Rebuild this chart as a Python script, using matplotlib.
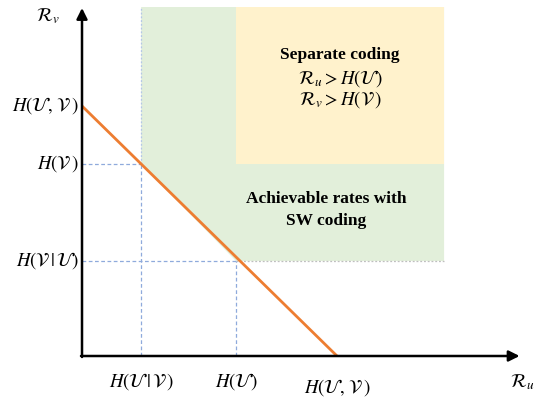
import matplotlib.pyplot as plt

plt.rcParams['mathtext.fontset'] = 'stix'

# entropies (arbitrary units)
H_U_given_V = 0.58
H_V_given_U = 0.95
H_U = 1.51
H_V = 1.92
H_UV = 2.50

# extent of the shaded regions
R_u_max = 3.55
R_v_max = 3.49

tick_x = [H_U_given_V, H_U, H_UV]
tick_x_labels = [r'$H(\mathcal{U}\,|\,\mathcal{V}\,)$', r'$H(\mathcal{U})$', r'$H(\mathcal{U},\,\mathcal{V}\,)$']
tick_y = [H_UV, H_V, H_V_given_U]
tick_y_labels = [r'$H(\mathcal{U},\,\mathcal{V}\,)$', r'$H(\mathcal{V}\,)$', r'$H(\mathcal{V}\,|\,\mathcal{U})$']

green = '#E2EFDA'
yellow = '#FFF2CC'
orange = '#ED7D31'
blue = '#8FAADC'

fig = plt.figure(figsize=(5.36, 3.98), dpi=100)
ax = fig.add_axes([0, 0, 1, 1])
ax.set_xlim(-0.804, 4.451)
ax.set_ylim(-0.42, 3.56)
ax.axis('off')

# achievable region (SW coding)
ax.fill([H_U_given_V, H_U_given_V, H_U, R_u_max, R_u_max],
        [R_v_max, H_V, H_V_given_U, H_V_given_U, R_v_max],
        color=green, lw=0, zorder=1)
# separate coding region
ax.fill([H_U, H_U, R_u_max, R_u_max],
        [H_V, R_v_max, R_v_max, H_V],
        color=yellow, lw=0, zorder=2)

# guide lines
ax.plot([0, H_U_given_V], [H_V, H_V], ls=(0, (3, 2)), color=blue, lw=0.9, zorder=3)
ax.plot([0, H_U], [H_V_given_U, H_V_given_U], ls=(0, (3, 2)), color=blue, lw=0.9, zorder=3)
ax.plot([H_U_given_V, H_U_given_V], [0, H_V], ls=(0, (3, 2)), color=blue, lw=0.9, zorder=3)
ax.plot([H_U, H_U], [0, H_V_given_U], ls=(0, (3, 2)), color=blue, lw=0.9, zorder=3)
ax.plot([H_U_given_V, H_U_given_V], [H_V, R_v_max], ls=(0, (1.5, 1.5)), color='#B4C7E7', lw=0.9, zorder=3)
ax.plot([H_U, R_u_max], [H_V_given_U, H_V_given_U], ls=(0, (1.5, 1.5)), color='#BFBFBF', lw=0.9, zorder=3)

# Slepian-Wolf bound
ax.plot([0, H_UV], [H_UV, 0], color=orange, lw=2, zorder=4, solid_capstyle='butt')

# axes with arrows
ax.annotate('', xy=(4.29, 0), xytext=(-0.01, 0),
            arrowprops=dict(arrowstyle='-|>', color='black', lw=1.8, mutation_scale=16, shrinkA=0, shrinkB=0), zorder=5)
ax.annotate('', xy=(0, 3.48), xytext=(0, -0.01),
            arrowprops=dict(arrowstyle='-|>', color='black', lw=1.8, mutation_scale=16, shrinkA=0, shrinkB=0), zorder=5)

fs = 13.5
ax.text(tick_x[0], -0.26, tick_x_labels[0], ha='center', va='center', fontsize=fs)
ax.text(tick_x[1], -0.26, tick_x_labels[1], ha='center', va='center', fontsize=fs)
ax.text(tick_x[2], -0.32, tick_x_labels[2], ha='center', va='center', fontsize=fs)
for y, lab in zip(tick_y, tick_y_labels):
    ax.text(-0.03, y, lab, ha='right', va='center', fontsize=fs)
ax.text(-0.33, 3.40, r'$\mathcal{R}_v$', ha='center', va='center', fontsize=fs)
ax.text(4.2, -0.26, r'$\mathcal{R}_u$', ha='left', va='center', fontsize=fs)

# region annotations
cx_sep = (H_U + R_u_max) / 2
ax.text(cx_sep, 3.01, 'Separate coding', ha='center', va='center',
        fontsize=12.5, fontweight='bold', family='Liberation Serif')
ax.text(cx_sep, 2.77, r'$\mathcal{R}_u > H(\mathcal{U})$', ha='center', va='center', fontsize=fs)
ax.text(cx_sep, 2.56, r'$\mathcal{R}_v > H(\mathcal{V}\,)$', ha='center', va='center', fontsize=fs)

ax.text(2.39, 1.46, 'Achievable rates with\nSW coding', ha='center', va='center',
        fontsize=12.5, fontweight='bold', family='Liberation Serif', linespacing=1.5)

fig.savefig('out.png', dpi=100)
